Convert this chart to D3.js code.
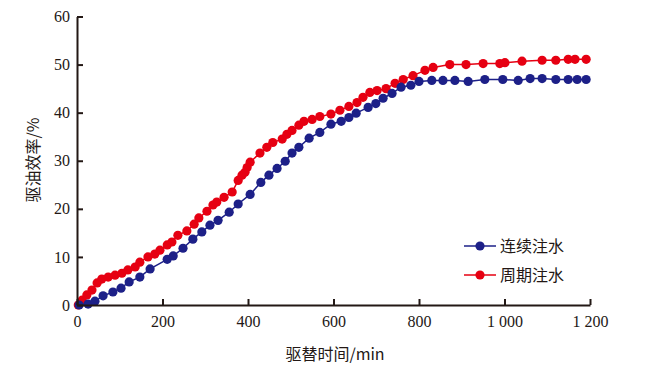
<!DOCTYPE html>
<html>
<head>
<meta charset="utf-8">
<script src="https://cdn.jsdelivr.net/npm/d3@7"></script>
<style>
  body { margin: 0; background: #fff; }
</style>
</head>
<body>
<div id="chart"></div>
<script>
// 连续注水 (continuous), time in min, recovery in %
let cont_t = [5, 26, 42, 61, 84, 103, 122, 147, 171, 211, 225, 248, 271, 292, 311, 330, 356, 377, 405, 430, 449,
    468, 487, 503, 519, 543, 568, 594, 618, 636, 653, 681, 699, 716, 737, 758, 781, 800, 830, 856, 884, 915, 954,
    996, 1032, 1060, 1088, 1120, 1149, 1170, 1191];
let cont_v = [0, 0.2, 0.8, 1.9, 2.7, 3.5, 4.8, 5.8, 7.5, 9.5, 10.2, 11.8, 13.7, 15.2, 16.6, 17.6, 19.3, 21.0, 23.0, 25.5, 27.0,
    28.4, 29.9, 31.6, 32.8, 34.7, 35.9, 37.6, 38.2, 39.0, 39.9, 41.1, 41.9, 43.0, 44.0, 45.3, 45.7, 46.5, 46.7, 46.7, 46.7, 46.5, 46.9,
    46.9, 46.7, 47.1, 47.1, 46.9, 46.9, 46.9, 46.9];

// 周期注水 (periodic)
let per_t = [3, 12, 23, 35, 47, 58, 73, 89, 105, 119, 136, 147, 166, 182, 194, 211, 222, 236, 257, 274, 285, 304,
    318, 327, 344, 363, 377, 386, 393, 398, 405, 428, 444, 458, 480, 491, 503, 519, 531, 550, 568, 594, 615, 636,
    655, 669, 685, 702, 723, 744, 763, 786, 814, 833, 872, 910, 950, 989, 1001, 1041, 1088, 1120, 1149, 1165, 1191];
let per_v = [0, 1.0, 2.1, 3.1, 4.6, 5.4, 5.8, 6.2, 6.6, 7.3, 7.9, 8.9, 10.0, 10.6, 11.4, 12.5, 13.1, 14.5, 15.4, 16.8, 18.1, 19.5,
    20.8, 21.4, 22.4, 23.5, 25.9, 27.0, 27.6, 28.6, 29.7, 31.6, 32.8, 33.8, 34.5, 35.5, 36.3, 37.4, 38.2, 38.6, 39.2, 39.7, 40.5, 41.3,
    42.1, 43.2, 44.2, 44.6, 45.0, 46.1, 46.9, 47.7, 48.8, 49.4, 50.0, 50.0, 50.2, 50.2, 50.4, 50.7, 50.9, 50.9, 51.1, 51.1, 51.1];

let x_ticks = [0, 200, 400, 600, 800, 1000, 1200];
let y_ticks = [0, 10, 20, 30, 40, 50, 60];
let series_names = ["连续注水", "周期注水"];
let series_colors = ["#1d2088", "#e60012"];

let ink = "#231815";
let serif = "Times New Roman, Liberation Serif, DejaVu Serif, Noto Serif, serif";
let cjk = "Noto Sans CJK SC, sans-serif";

let chart_width = 646;
let chart_height = 368;
let margin_left = 77;
let margin_top = 16.5;
let width = 590 - margin_left;
let height = 305 - margin_top;

let svg = d3.select("#chart")
    .append("svg")
    .attr("width", chart_width)
    .attr("height", chart_height);

let g = svg.append("g")
    .attr("transform", "translate(" + margin_left + "," + margin_top + ")");

let xScale = d3.scaleLinear().domain([0, 1200]).range([0, width]);
let yScale = d3.scaleLinear().domain([0, 60]).range([height, 0]);

function fmt_thousands(d) {
    if (d >= 1000) {
        let s = String(d);
        return s.substring(0, s.length - 3) + " " + s.substring(s.length - 3);
    }
    return String(d);
}

let all_series = [
    { name: series_names[1], color: series_colors[1], pts: per_t.map((t, i) => [t, per_v[i]]) },
    { name: series_names[0], color: series_colors[0], pts: cont_t.map((t, i) => [t, cont_v[i]]) }
];

let line = d3.line()
    .x(d => xScale(d[0]))
    .y(d => yScale(d[1]));

for (let s of all_series) {
    g.append("path")
        .datum(s.pts)
        .attr("fill", "none")
        .attr("stroke", s.color)
        .attr("stroke-width", 1.5)
        .attr("d", line);
    g.selectAll(null)
        .data(s.pts)
        .enter()
        .append("circle")
        .attr("cx", d => xScale(d[0]))
        .attr("cy", d => yScale(d[1]))
        .attr("r", 4.6)
        .attr("fill", s.color);
}

let x_axis = g.append("g")
    .attr("transform", "translate(0," + height + ")")
    .call(d3.axisBottom(xScale).tickValues(x_ticks).tickSize(-6).tickSizeOuter(0).tickPadding(11)
        .tickFormat(fmt_thousands));

let y_axis = g.append("g")
    .call(d3.axisLeft(yScale).tickValues(y_ticks).tickSize(-6).tickSizeOuter(0).tickPadding(7));

for (let ax of [x_axis, y_axis]) {
    ax.attr("font-family", serif).attr("font-size", 16);
    ax.selectAll("path, line").attr("stroke", ink).attr("stroke-width", 2);
    ax.selectAll("text").attr("fill", ink).attr("font-family", serif).attr("font-size", 16);
}

// axis titles
svg.append("text")
    .attr("x", 335)
    .attr("y", 360)
    .attr("text-anchor", "middle")
    .attr("font-family", cjk)
    .attr("font-size", 16)
    .attr("fill", ink)
    .text("驱替时间/min");

svg.append("text")
    .attr("transform", "translate(39,160) rotate(-90)")
    .attr("text-anchor", "middle")
    .attr("font-family", cjk)
    .attr("font-size", 16)
    .attr("fill", ink)
    .text("驱油效率/%");

// legend
let legend_rows = [0, 1];
let legend = svg.append("g");
legend.selectAll("line")
    .data(legend_rows)
    .enter()
    .append("line")
    .attr("x1", 464)
    .attr("x2", 496)
    .attr("y1", d => 246 + d * 29)
    .attr("y2", d => 246 + d * 29)
    .attr("stroke", d => series_colors[d])
    .attr("stroke-width", 1.5);
legend.selectAll("circle")
    .data(legend_rows)
    .enter()
    .append("circle")
    .attr("cx", 480)
    .attr("cy", d => 246 + d * 29)
    .attr("r", 4.6)
    .attr("fill", d => series_colors[d]);
legend.selectAll("text")
    .data(legend_rows)
    .enter()
    .append("text")
    .attr("x", 500)
    .attr("y", d => 246 + d * 29)
    .attr("dy", "0.35em")
    .attr("font-family", cjk)
    .attr("font-size", 16)
    .attr("fill", ink)
    .text(d => series_names[d]);
</script>
</body>
</html>
